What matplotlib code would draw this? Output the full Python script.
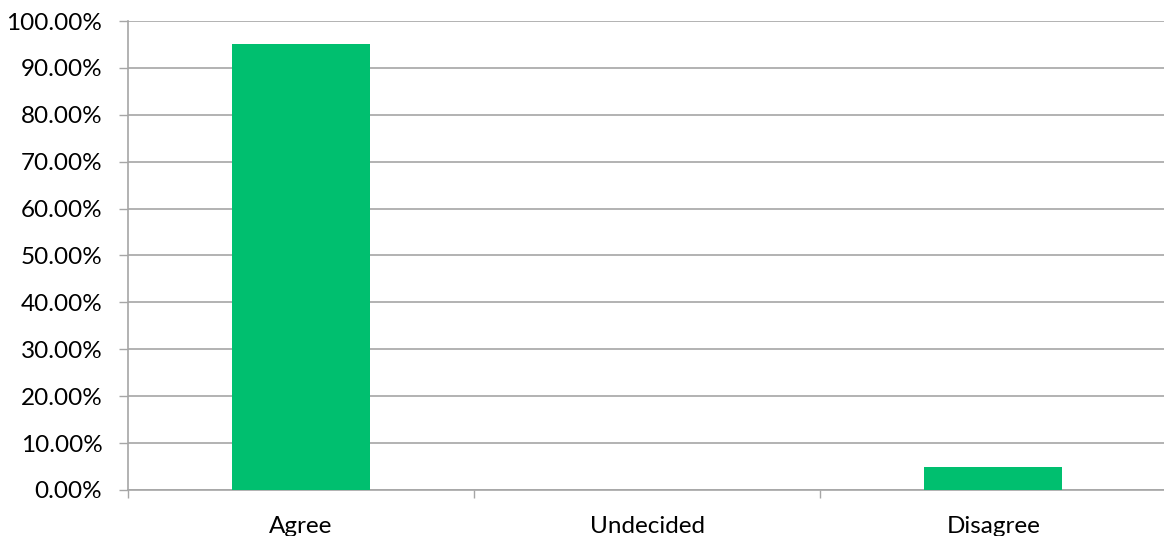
import matplotlib.pyplot as plt
from matplotlib.ticker import FuncFormatter, MultipleLocator

# data
categories = ['Agree', 'Undecided', 'Disagree']
shares = [95.0, 0.0, 5.0]

plt.rcParams['font.family'] = ['Lato', 'DejaVu Sans']

fig = plt.figure(figsize=(11.64, 5.36), dpi=100)
ax = fig.add_axes([128 / 1164, 1 - 490 / 536, (1164 - 128) / 1164 + 0.002, (490 - 21) / 536])

x = list(range(len(categories)))
ax.bar(x, shares, width=0.4, color='#00BF6F', zorder=3)

ax.set_xlim(-0.5, len(categories) - 0.5)
ax.set_ylim(0, 100)
ax.yaxis.set_major_locator(MultipleLocator(10))
ax.yaxis.set_major_formatter(FuncFormatter(lambda v, p: '%.2f%%' % v))
ax.grid(axis='y', color='#A6A6A6', linewidth=1.2, zorder=0)

ax.set_xticks(x)
ax.set_xticklabels(categories)
ax.set_xticks([i - 0.5 for i in range(len(categories) + 1)], minor=True)
ax.tick_params(axis='x', which='major', length=0, pad=19, labelsize=17.5)
ax.tick_params(axis='x', which='minor', length=6, width=1, color='#A6A6A6')
ax.tick_params(axis='y', length=6.5, width=1, color='#A6A6A6', pad=12, labelsize=17.5)

for side in ['top', 'right']:
    ax.spines[side].set_visible(False)
for side in ['left', 'bottom']:
    ax.spines[side].set_color('#A6A6A6')
    ax.spines[side].set_linewidth(1.2)

fig.savefig('out.png', dpi=100)
